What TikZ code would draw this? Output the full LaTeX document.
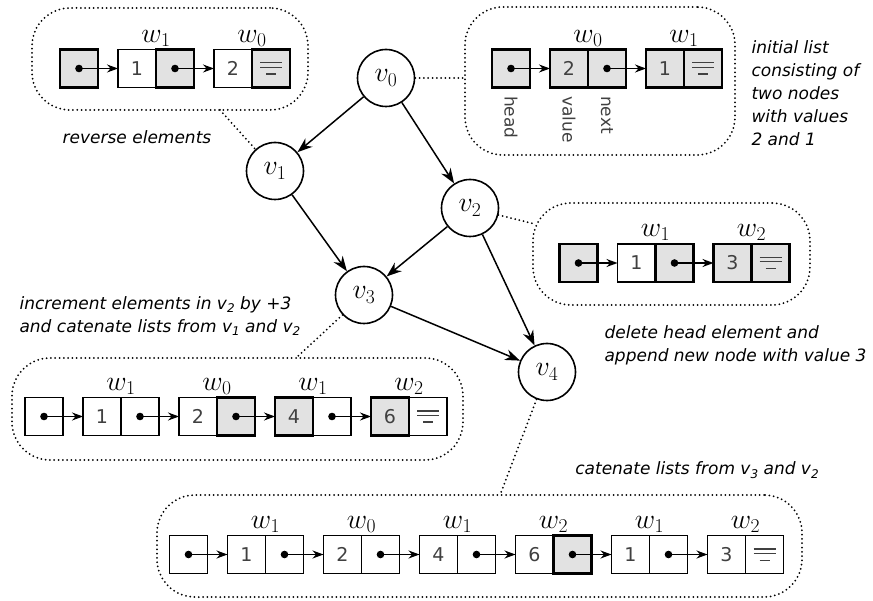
\documentclass[tikz,border=0pt]{standalone}
\usepackage{fix-cm}
\usepackage[no-math]{fontspec}
\setmainfont{DejaVu Sans}
\usepackage{tikz}
\usetikzlibrary{arrows.meta, positioning}
\definecolor{cellgray}{RGB}{226,226,226}
% nil marker drawn inside the last next-field
\newcommand{\nilsym}{\vbox{\hrule width 22pt height 1.3pt \vskip 3.2pt
  \hrule width 22pt height 1.3pt \vskip 5.5pt
  \hbox to 22pt{\hss\vrule width 10pt height 1.3pt\hss}}}
\newcommand{\vsub}[1]{v\raisebox{-0.35ex}{\fontsize{12}{12}\selectfont #1}}
\tikzset{
  cell/.style={rectangle, draw, line width=1.2pt, minimum size=38pt,
               inner sep=0pt, outer sep=0pt, text=black!75,
               font=\fontsize{19}{19}\selectfont},
  grcell/.style={cell, fill=cellgray, line width=2.6pt},
  vertex/.style={circle, draw, line width=1.6pt, minimum size=57pt,
                 inner sep=0pt, font=\fontsize{28}{28}\selectfont},
  dotbox/.style={rectangle, rounded corners=38pt, draw, line width=2pt,
                 dash pattern=on 0pt off 4.3pt, line cap=round},
  link/.style={line width=2pt, dash pattern=on 0pt off 4.3pt, line cap=round},
  edge/.style={-{Stealth[length=15pt, width=11pt]}, line width=1.5pt},
  ptr/.style={-{Stealth[length=11pt, width=8pt]}, line width=1.3pt},
  wlab/.style={font=\fontsize{28}{28}\selectfont, inner sep=2pt},
  note/.style={font=\fontsize{17}{23}\selectfont\itshape, align=left},
  field/.style={rotate=-90, anchor=west, inner sep=0pt, text=black!75,
                font=\fontsize{17}{17}\selectfont},
}

\begin{document}
\begin{tikzpicture}[x=1pt, y=-1pt]
  \useasboundingbox (0,0) rectangle (873,601);

  % version graph
  \node[vertex] (v0) at (386,78)  {$v_0$};
  \node[vertex] (v1) at (275,171) {$v_1$};
  \node[vertex] (v2) at (470,208) {$v_2$};
  \node[vertex] (v3) at (364,295) {$v_3$};
  \node[vertex] (v4) at (547,372) {$v_4$};
  \draw[edge] (v0) -- (v1);
  \draw[edge] (v0) -- (v2);
  \draw[edge] (v1) -- (v3);
  \draw[edge] (v2) -- (v3);
  \draw[edge] (v2) -- (v4);
  \draw[edge] (v3) -- (v4);

  % dotted frames round the lists
  \node[dotbox, minimum width=276pt, minimum height=102pt] (boxA) at (170,59) {};
  \node[dotbox, minimum width=270pt, minimum height=148pt] (boxB) at (600,81) {};
  \node[dotbox, minimum width=277pt, minimum height=102pt] (boxC) at (671.5,254) {};
  \node[dotbox, minimum width=451pt, minimum height=102pt] (boxD) at (237.5,409) {};
  \node[dotbox, minimum width=645pt, minimum height=102pt] (boxE) at (479.5,546) {};

  % links from versions to frames
  \coordinate (aTail) at (220,110);
  \coordinate (cTail) at (535,224);
  \coordinate (dTail) at (296,358);
  \coordinate (eTail) at (500,495);
  \draw[link] (aTail) -- (v1);
  \draw[link] (v0) -- (v0 -| boxB.west);
  \draw[link] (v2) -- (cTail);
  \draw[link] (v3) -- (dTail);
  \draw[link] (v4) -- (eTail);

  % v0: initial list
  \node[grcell] (b0) at (511,68.5) {};
  \node[grcell, right=20pt of b0] (b1v) {2};
  \node[grcell, right=0pt of b1v] (b1n) {};
  \node[grcell, right=20pt of b1n] (b2v) {1};
  \node[grcell, right=0pt of b2v] (b2n) {\nilsym};
  \node[wlab, above=1pt of b1v.north east] (b1w) {$w_0$};
  \node[wlab, above=1pt of b2v.north east] (b2w) {$w_1$};
  \node[field] (fHead) at ([yshift=-8.5pt]b0.south) {head};
  \node[field] (fValue) at ([yshift=-8.5pt]b1v.south) {value};
  \node[field] (fNext) at ([yshift=-8.5pt]b1n.south) {next};
  \foreach \s/\t in {b0/b1v, b1n/b2v} {
    \fill (\s.center) circle (3.8);
    \draw[ptr] (\s.center) -- (\t.west);
  }

  % v1: reversed
  \node[grcell] (a0) at (79,68.5) {};
  \node[cell, right=20pt of a0] (a1v) {1};
  \node[grcell, right=0pt of a1v] (a1n) {};
  \node[cell, right=20pt of a1n] (a2v) {2};
  \node[grcell, right=0pt of a2v] (a2n) {\nilsym};
  \node[wlab, above=1pt of a1v.north east] (a1w) {$w_1$};
  \node[wlab, above=1pt of a2v.north east] (a2w) {$w_0$};
  \foreach \s/\t in {a0/a1v, a1n/a2v} {
    \fill (\s.center) circle (3.8);
    \draw[ptr] (\s.center) -- (\t.west);
  }

  % v2: head deleted, 3 appended
  \node[grcell] (c0) at (578.5,263) {};
  \node[cell, right=20pt of c0] (c1v) {1};
  \node[grcell, right=0pt of c1v] (c1n) {};
  \node[grcell, right=20pt of c1n] (c2v) {3};
  \node[grcell, right=0pt of c2v] (c2n) {\nilsym};
  \node[wlab, above=1pt of c1v.north east] (c1w) {$w_1$};
  \node[wlab, above=1pt of c2v.north east] (c2w) {$w_2$};
  \foreach \s/\t in {c0/c1v, c1n/c2v} {
    \fill (\s.center) circle (3.8);
    \draw[ptr] (\s.center) -- (\t.west);
  }

  % v3: v1 followed by v2 + 3
  \node[cell] (d0) at (44,416.5) {};
  \node[cell, right=20pt of d0] (d1v) {1};
  \node[cell, right=0pt of d1v] (d1n) {};
  \node[cell, right=20pt of d1n] (d2v) {2};
  \node[grcell, right=0pt of d2v] (d2n) {};
  \node[grcell, right=20pt of d2n] (d3v) {4};
  \node[cell, right=0pt of d3v] (d3n) {};
  \node[grcell, right=20pt of d3n] (d4v) {6};
  \node[cell, right=0pt of d4v] (d4n) {\nilsym};
  \node[wlab, above=1pt of d1v.north east] (d1w) {$w_1$};
  \node[wlab, above=1pt of d2v.north east] (d2w) {$w_0$};
  \node[wlab, above=1pt of d3v.north east] (d3w) {$w_1$};
  \node[wlab, above=1pt of d4v.north east] (d4w) {$w_2$};
  \foreach \s/\t in {d0/d1v, d1n/d2v, d2n/d3v, d3n/d4v} {
    \fill (\s.center) circle (3.8);
    \draw[ptr] (\s.center) -- (\t.west);
  }

  % v4: v3 followed by v2
  \node[cell] (e0) at (188.5,554.5) {};
  \node[cell, right=20pt of e0] (e1v) {1};
  \node[cell, right=0pt of e1v] (e1n) {};
  \node[cell, right=20pt of e1n] (e2v) {2};
  \node[cell, right=0pt of e2v] (e2n) {};
  \node[cell, right=20pt of e2n] (e3v) {4};
  \node[cell, right=0pt of e3v] (e3n) {};
  \node[cell, right=20pt of e3n] (e4v) {6};
  \node[grcell, right=0pt of e4v] (e4n) {};
  \node[cell, right=20pt of e4n] (e5v) {1};
  \node[cell, right=0pt of e5v] (e5n) {};
  \node[cell, right=20pt of e5n] (e6v) {3};
  \node[cell, right=0pt of e6v] (e6n) {\nilsym};
  \node[wlab, above=1pt of e1v.north east] (e1w) {$w_1$};
  \node[wlab, above=1pt of e2v.north east] (e2w) {$w_0$};
  \node[wlab, above=1pt of e3v.north east] (e3w) {$w_1$};
  \node[wlab, above=1pt of e4v.north east] (e4w) {$w_2$};
  \node[wlab, above=1pt of e5v.north east] (e5w) {$w_1$};
  \node[wlab, above=1pt of e6v.north east] (e6w) {$w_2$};
  \foreach \s/\t in {e0/e1v, e1n/e2v, e2n/e3v, e3n/e4v, e4n/e5v, e5n/e6v} {
    \fill (\s.center) circle (3.8);
    \draw[ptr] (\s.center) -- (\t.west);
  }

  % captions
  \node[note] (nA) at (137,137) {reverse elements};
  \node[note, anchor=west] (nB) at (748,93)
    {initial list\\consisting of\\two nodes\\with values\\2 and 1};
  \node[note, anchor=west] (nC) at (601,345)
    {delete head element and\\append new node with value 3};
  \node[note, anchor=west] (nD) at (16,316)
    {increment elements in \vsub{2} by +3\\and catenate lists from \vsub{1} and \vsub{2}};
  \node[note] (nE) at (697,470) {catenate lists from \vsub{3} and \vsub{2}};
\end{tikzpicture}
\end{document}
